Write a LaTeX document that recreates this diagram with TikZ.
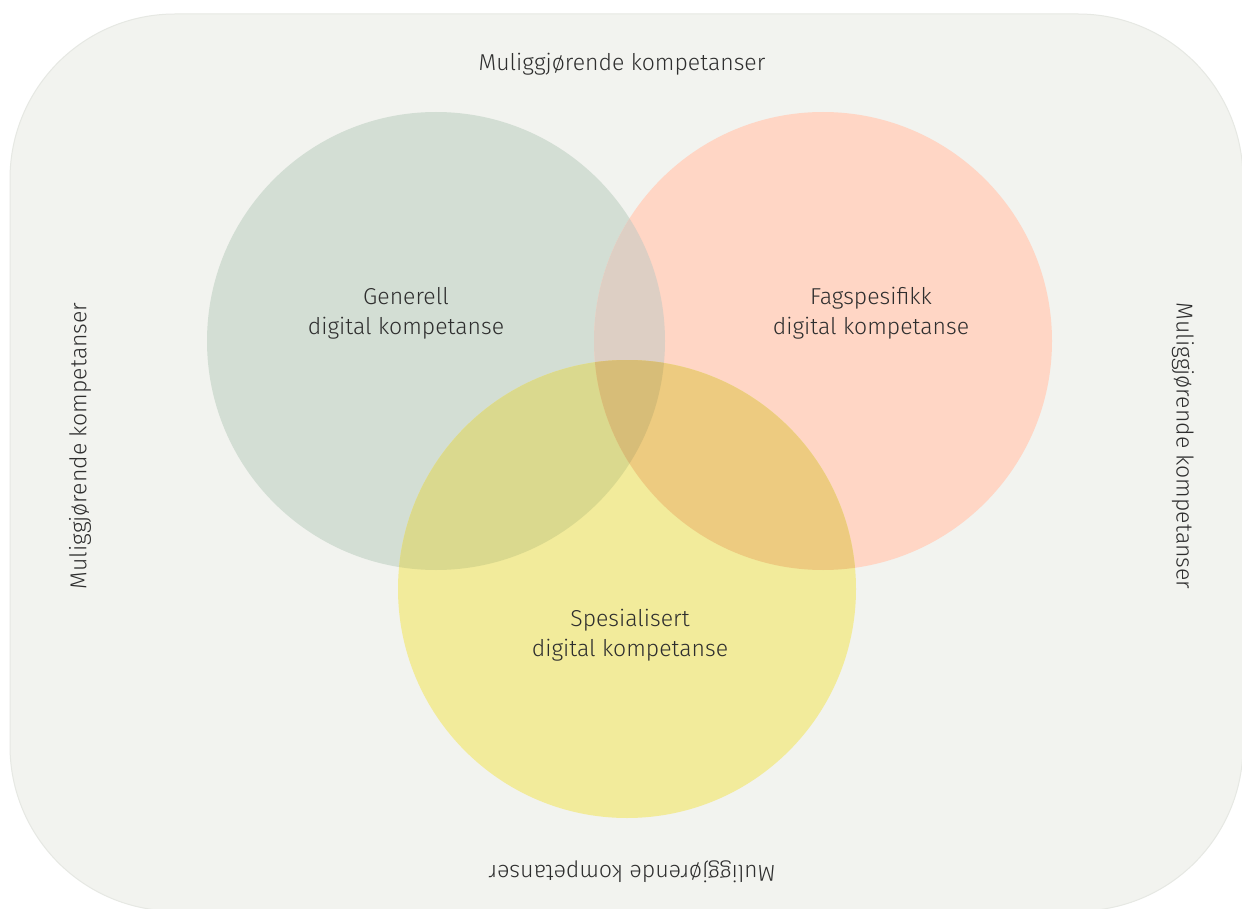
\documentclass[tikz,border=0pt]{standalone}
\usepackage{fontspec}
\setmainfont{Fira Sans Light}
\definecolor{bgc}{HTML}{F2F3EF}
\definecolor{bgline}{HTML}{E6E8E3}
\definecolor{cg}{HTML}{D3DED4}
\definecolor{cp}{HTML}{FFD6C5}
\definecolor{cy}{HTML}{F2EB9B}
\definecolor{cgp}{HTML}{DDCFC4}
\definecolor{cgy}{HTML}{DAD98E}
\definecolor{cpy}{HTML}{EDCB80}
\definecolor{cgpy}{HTML}{D7BD78}
\definecolor{txt}{HTML}{2E2E2E}
\begin{document}
\begin{tikzpicture}[x=1pt,y=-1pt,
  lbl/.style={text=txt,font=\fontsize{23}{30}\selectfont,align=center,inner sep=0pt},
  ring/.style={circle,minimum size=458pt,inner sep=0pt,draw=none}]
\useasboundingbox (0,0) rectangle (1242,909);
\fill[white] (0,0) rectangle (1242,909);
\draw[bgline,fill=bgc,line width=1pt,rounded corners=165pt] (10,14) rectangle (1243,911);
% circles
\node[ring,fill=cg] (G) at (436,341) {};
\node[ring,fill=cp] (P) at (823,341) {};
\node[ring,fill=cy] (Y) at (627,589) {};
% overlaps
\begin{scope}
  \clip (436,341) circle (229);
  \fill[cgp] (823,341) circle (229);
\end{scope}
\begin{scope}
  \clip (436,341) circle (229);
  \fill[cgy] (627,589) circle (229);
\end{scope}
\begin{scope}
  \clip (823,341) circle (229);
  \fill[cpy] (627,589) circle (229);
\end{scope}
\begin{scope}
  \clip (436,341) circle (229);
  \clip (823,341) circle (229);
  \fill[cgpy] (627,589) circle (229);
\end{scope}
% labels
\node[lbl] (tG) at (406,313) {Generell\\digital kompetanse};
\node[lbl] (tP) at (871,313) {Fagspesifikk\\digital kompetanse};
\node[lbl] (tY) at (630,635) {Spesialisert\\digital kompetanse};
\node[lbl] (top) at (622,64) {Muliggjørende kompetanser};
\node[lbl,rotate=180] (bot) at (632,872) {Muliggjørende kompetanser};
\node[lbl,rotate=90] (lft) at (80,446) {Muliggjørende kompetanser};
\node[lbl,rotate=-90] (rgt) at (1183,446) {Muliggjørende kompetanser};
\end{tikzpicture}
\end{document}
